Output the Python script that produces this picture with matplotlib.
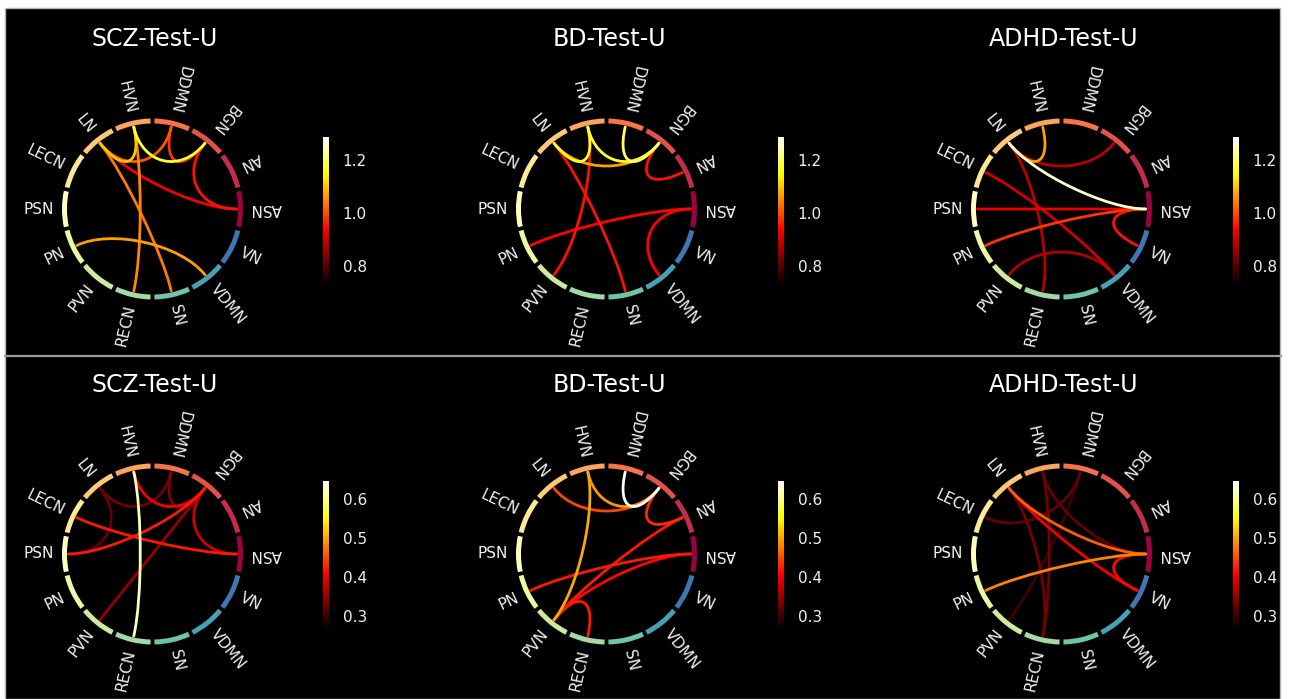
import numpy as np
import matplotlib
matplotlib.use("Agg")
import matplotlib.pyplot as plt
from matplotlib.path import Path
from matplotlib.patches import PathPatch, Wedge, Rectangle
from matplotlib.lines import Line2D
from matplotlib.colors import Normalize
import matplotlib.colorbar as mcolorbar

# ---------------------------------------------------------------- data
node_names = ["ASN", "AN", "BGN", "DDMN", "HVN", "LN", "LECN",
              "PSN", "PN", "PVN", "RECN", "SN", "VDMN", "VN"]

titles = ["SCZ-Test-U", "BD-Test-U", "ADHD-Test-U"]

# connections: (network a, network b, strength)
scz_top = [("HVN", "BGN", 1.17), ("LN", "HVN", 1.10), ("LN", "DDMN", 1.01),
           ("DDMN", "BGN", 0.98), ("BGN", "ASN", 0.95), ("LN", "ASN", 0.93),
           ("HVN", "RECN", 1.05), ("LN", "SN", 1.04), ("PN", "VDMN", 1.07)]
bd_top = [("LN", "HVN", 1.16), ("HVN", "BGN", 1.17), ("DDMN", "BGN", 1.20),
          ("LN", "BGN", 1.07), ("BGN", "AN", 0.95), ("HVN", "PVN", 0.95),
          ("LN", "SN", 0.95), ("PN", "ASN", 0.94), ("ASN", "VDMN", 0.94)]
adhd_top = [("LN", "HVN", 1.07), ("LN", "ASN", 1.26), ("LN", "BGN", 0.88),
            ("LECN", "VDMN", 0.90), ("LN", "RECN", 0.88), ("PSN", "ASN", 0.92),
            ("PN", "ASN", 0.98), ("ASN", "VN", 0.95), ("PVN", "VDMN", 0.87)]

scz_bottom = [("HVN", "RECN", 0.62), ("LECN", "ASN", 0.42), ("PSN", "BGN", 0.42),
              ("HVN", "BGN", 0.40), ("BGN", "ASN", 0.38), ("LN", "DDMN", 0.33),
              ("DDMN", "BGN", 0.34), ("LN", "PSN", 0.32), ("BGN", "PVN", 0.35)]
bd_bottom = [("DDMN", "BGN", 0.645), ("HVN", "BGN", 0.49), ("LN", "BGN", 0.445),
             ("HVN", "PVN", 0.50), ("BGN", "AN", 0.43), ("PN", "ASN", 0.42),
             ("PVN", "ASN", 0.41), ("PVN", "AN", 0.42), ("PVN", "RECN", 0.42)]
adhd_bottom = [("LN", "ASN", 0.46), ("PN", "ASN", 0.48), ("LN", "VN", 0.40),
               ("ASN", "VN", 0.41), ("LN", "RECN", 0.33), ("HVN", "RECN", 0.33),
               ("DDMN", "LECN", 0.32), ("HVN", "ASN", 0.32), ("PVN", "DDMN", 0.30)]

top_range = (0.735, 1.29)
bottom_range = (0.27, 0.645)
top_ticks = [0.8, 1.0, 1.2]
bottom_ticks = [0.3, 0.4, 0.5, 0.6]

# ---------------------------------------------------------------- layout
W, H = 1290, 699
fig = plt.figure(figsize=(W / 100, H / 100), dpi=100, facecolor="white")

# black canvas with thin grey frame and a row divider (behind the axes)
fig.add_artist(Rectangle((5 / W, 0), 1275 / W, (H - 8) / H, transform=fig.transFigure,
                         facecolor="black", edgecolor="#b4b4b4", linewidth=1.0,
                         zorder=-10))
fig.add_artist(Line2D([5 / W, 1281 / W], [1 - 356 / H, 1 - 356 / H],
                      transform=fig.transFigure, color="#9a9a9a", linewidth=1.6,
                      zorder=-9))

R_PX = 90.5          # outer ring radius in pixels (data radius 10)
HALF = 135           # half size of each panel axes in pixels
RING_OUT, RING_IN = 10.0, 9.45
LINE_R = 9.3
CTRL_R = 5.0
NODE_W = 23.2
LABEL_R = 10.85

n = len(node_names)
angles = {name: i * 360.0 / n for i, name in enumerate(node_names)}
node_cols = {name: plt.get_cmap("Spectral")(i / n) for i, name in enumerate(node_names)}
cmap = plt.get_cmap("hot")


def panel(cx, cy, title, edges, vrange, ticks, cbar_x, cbar_y0, cbar_y1):
    ax = fig.add_axes([(cx - HALF) / W, 1 - (cy + HALF) / H, 2 * HALF / W, 2 * HALF / H])
    lim = HALF / R_PX * 10
    ax.set_xlim(-lim, lim)
    ax.set_ylim(-lim, lim)
    ax.set_aspect("equal")
    ax.axis("off")
    norm = Normalize(*vrange)

    # weakest first so the strongest connections stay on top
    for a, b, v in sorted(edges, key=lambda e: e[2]):
        t0, t1 = np.radians(angles[a]), np.radians(angles[b])
        verts = [(LINE_R * np.cos(t0), LINE_R * np.sin(t0)),
                 (CTRL_R * np.cos(t0), CTRL_R * np.sin(t0)),
                 (CTRL_R * np.cos(t1), CTRL_R * np.sin(t1)),
                 (LINE_R * np.cos(t1), LINE_R * np.sin(t1))]
        codes = [Path.MOVETO, Path.CURVE4, Path.CURVE4, Path.CURVE4]
        ax.add_patch(PathPatch(Path(verts, codes), fill=False,
                               edgecolor=cmap(norm(v)), linewidth=2.0,
                               capstyle="round"))

    for name in node_names:
        a = angles[name]
        ax.add_patch(Wedge((0, 0), RING_OUT, a - NODE_W / 2, a + NODE_W / 2,
                           width=RING_OUT - RING_IN, facecolor=node_cols[name],
                           edgecolor="none"))
        rot = a
        if a >= 270:
            ha = "left"
        else:
            rot = a + 180
            ha = "right"
        t = np.radians(a)
        ax.text(LABEL_R * np.cos(t), LABEL_R * np.sin(t), name, fontsize=11,
                color="#f0f0f0", rotation=rot, rotation_mode="anchor",
                ha=ha, va="center")

    fig.text((cx + 2.5) / W, 1 - (cy - 162.5) / H, title, fontsize=17,
             color="white", ha="center", va="baseline")

    cax = fig.add_axes([cbar_x / W, 1 - cbar_y1 / H, 6 / W, (cbar_y1 - cbar_y0) / H])
    cb = mcolorbar.ColorbarBase(cax, cmap=cmap, norm=norm, orientation="vertical")
    cb.outline.set_visible(False)
    cb.set_ticks(ticks)
    cb.set_ticklabels([f"{t:.1f}" for t in ticks])
    cax.tick_params(length=0, pad=10, labelsize=11, labelcolor="#f0f0f0")


row_y = [209, 554]
col_x = [152.5, 606.5, 1061.5]
cbar_xs = [322.7, 777.7, 1232.7]
cbar_rows = [(136.5, 283.0), (481.0, 627.5)]

panels = [(scz_top, bd_top, adhd_top), (scz_bottom, bd_bottom, adhd_bottom)]
ranges = [top_range, bottom_range]
tick_sets = [top_ticks, bottom_ticks]

for r in range(2):
    for c in range(3):
        panel(col_x[c], row_y[r], titles[c], panels[r][c], ranges[r], tick_sets[r],
              cbar_xs[c], cbar_rows[r][0], cbar_rows[r][1])

fig.savefig("out.png", dpi=100, facecolor=fig.get_facecolor())
